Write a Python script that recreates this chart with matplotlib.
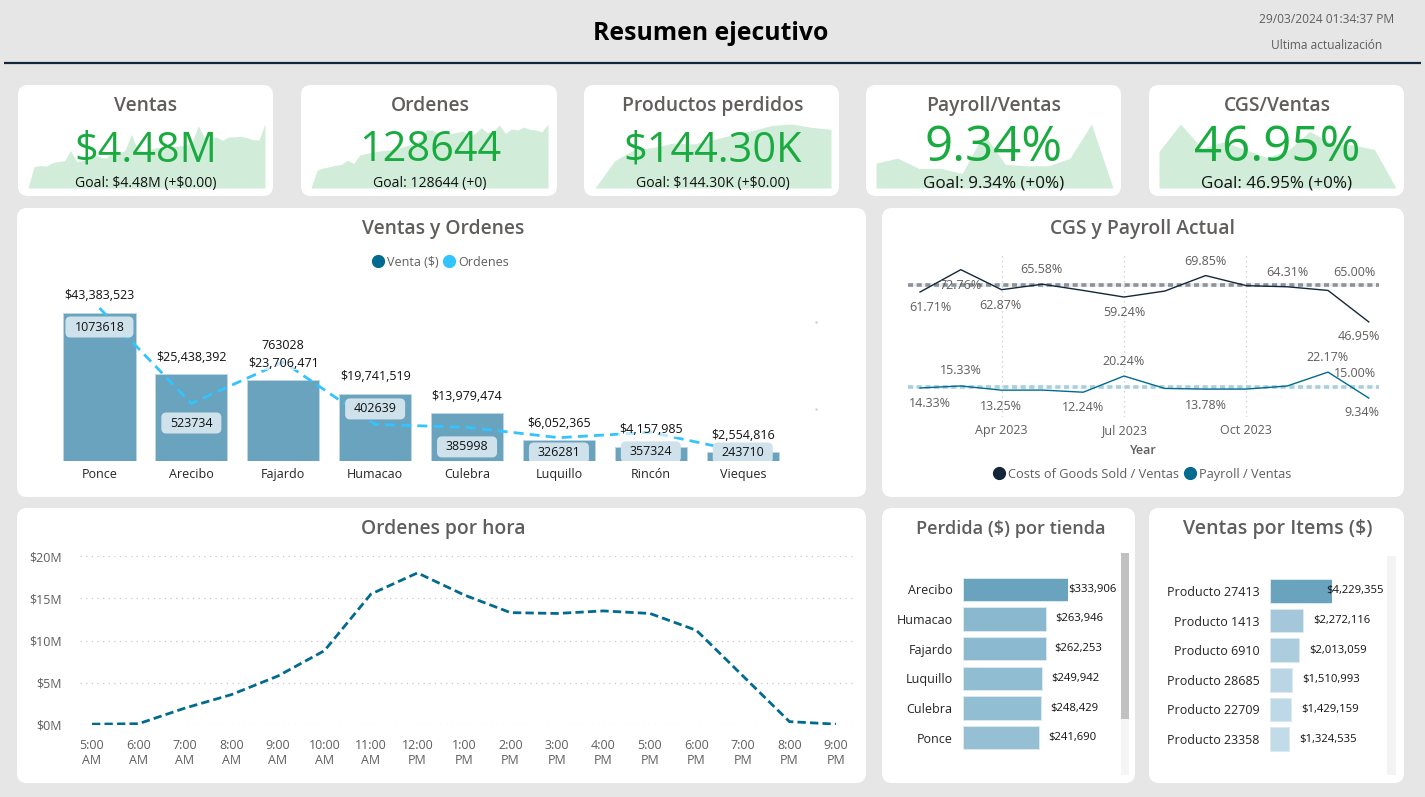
import numpy as np
import matplotlib
matplotlib.use("Agg")
import matplotlib.pyplot as plt
from matplotlib.patches import FancyBboxPatch
from matplotlib.lines import Line2D
from matplotlib.transforms import IdentityTransform

plt.rcParams['font.family'] = ['Open Sans', 'DejaVu Sans']
plt.rcParams['text.parse_math'] = False

# ---------- data ----------
ciudades = ['Ponce', 'Arecibo', 'Fajardo', 'Humacao', 'Culebra', 'Luquillo', 'Rincón', 'Vieques']
ventas = [43383523, 25438392, 23706471, 19741519, 13979474, 6052365, 4157985, 2554816]
ordenes = [1073618, 523734, 763028, 402639, 385998, 326281, 357324, 243710]

meses = ['Feb', 'Mar', 'Apr 2023', 'May', 'Jun', 'Jul 2023', 'Aug', 'Sep', 'Oct 2023', 'Nov', 'Dec', 'Jan']
cgs = [61.71, 72.76, 62.87, 65.58, 62.5, 59.24, 62.2, 69.85, 64.85, 64.31, 62.5, 46.95]
payroll = [14.33, 15.33, 13.25, 13.3, 12.24, 20.24, 14.1, 13.78, 13.8, 15.3, 22.17, 9.34]
cgs_goal = 65.00
payroll_goal = 15.00

horas = ['5:00\nAM', '6:00\nAM', '7:00\nAM', '8:00\nAM', '9:00\nAM', '10:00\nAM', '11:00\nAM', '12:00\nPM',
         '1:00\nPM', '2:00\nPM', '3:00\nPM', '4:00\nPM', '5:00\nPM', '6:00\nPM', '7:00\nPM', '8:00\nPM', '9:00\nPM']
ordenes_hora = [0.1, 0.15, 2.0, 3.6, 5.8, 8.8, 15.5, 18.0, 15.4, 13.3, 13.2, 13.5, 13.2, 11.2, 5.8, 0.4, 0.1]

tiendas = ['Arecibo', 'Humacao', 'Fajardo', 'Luquillo', 'Culebra', 'Ponce']
perdida = [333906, 263946, 262253, 249942, 248429, 241690]

productos = ['Producto 27413', 'Producto 1413', 'Producto 6910', 'Producto 28685', 'Producto 22709', 'Producto 23358']
ventas_items = [4229355, 2272116, 2013059, 1510993, 1429159, 1324535]

spark_ventas = [0, 63, 66, 64, 74, 78, 80, 110, 78, 80, 84, 100, 90, 88, 110, 100, 112, 158, 115, 108,
                112, 118, 120, 118, 122, 124, 126, 135, 183, 150, 145, 150, 140, 150, 150, 152, 148, 142, 141, 188]
spark_ordenes = [0, 53, 60, 63, 68, 70, 83, 73, 98, 103, 106, 110, 112, 114, 118, 122, 128, 133, 145, 173,
                 173, 160, 168, 162, 166, 170, 155, 163, 180, 165, 170, 188, 163, 176, 173, 182, 175, 173, 168, 191]
spark_perdidos = [0, 82, 115, 122, 135, 132, 145, 160, 172, 188, 192, 182, 176]

# ---------- styles ----------
W, H = 1425, 797
BG = '#E6E6E6'
GREY = '#605E5C'
DARK = '#252423'
GREEN = '#1AAB40'
SPARK = '#D1EDD9'
BAR = '#6AA3BD'
NAVY = '#14273A'
TEAL = '#006A8F'
CYAN = '#33C3FF'
PT = 0.72

fig = plt.figure(figsize=(W / 100, H / 100), dpi=100, facecolor=BG)


def box(x0, y0, x1, y1, z=2):
    a = fig.add_axes([x0 / W, 1 - y1 / H, (x1 - x0) / W, (y1 - y0) / H], zorder=z)
    a.patch.set_alpha(0)
    for s in a.spines.values():
        s.set_visible(False)
    return a


bg = box(0, 0, W, H, z=0)
bg.set_xlim(0, W)
bg.set_ylim(H, 0)
bg.axis('off')
top = box(0, 0, W, H, z=10)
top.set_xlim(0, W)
top.set_ylim(H, 0)
top.axis('off')

cards = [(18, 85, 273, 196), (301, 85, 557, 196), (584, 85, 839, 196), (866, 85, 1121, 196), (1149, 85, 1404, 196),
         (17, 208, 866, 497), (882, 208, 1404, 497),
         (17, 508, 866, 783), (882, 508, 1135, 783), (1149, 508, 1404, 783)]
for x0, y0, x1, y1 in cards:
    bg.add_patch(FancyBboxPatch((x0, y0), x1 - x0, y1 - y0, boxstyle='round,pad=0,rounding_size=10',
                                fc='white', ec='none'))

bg.plot([4, 1421], [62.5, 62.5], color=NAVY, lw=1.6, solid_capstyle='butt')
top.text(711, 33, 'Resumen ejecutivo', ha='center', va='center', fontsize=24.7 * PT, fontweight='bold', color='black')
top.text(1327, 19, '29/03/2024 01:34:37 PM', ha='center', va='center', fontsize=12 * PT, color=GREY)
top.text(1327, 45, 'Ultima actualización', ha='center', va='center', fontsize=11.9 * PT, color=GREY)

# ---------- KPI cards ----------
kpis = [('Ventas', 146, '$4.48M', 'Goal: $4.48M (+$0.00)', spark_ventas, 28, 265, 41.5, 14, 150),
        ('Ordenes', 430, '128644', 'Goal: 128644 (+0)', spark_ordenes, 311, 548, 41.5, 14, 150),
        ('Productos perdidos', 713, '$144.30K', 'Goal: $144.30K (+$0.00)', spark_perdidos, 595, 831, 41.5, 14, 150),
        ('Payroll/Ventas', 994, '9.34%', 'Goal: 9.34% (+0%)', payroll, 876, 1113, 49.3, 17, 148),
        ('CGS/Ventas', 1277, '46.95%', 'Goal: 46.95% (+0%)', cgs, 1159, 1396, 49.3, 17, 148)]
for titulo, cx, valor, meta, serie, sx0, sx1, vs, gs, vy in kpis:
    a = box(sx0, 188 - 64, sx1, 188, z=2)
    a.fill_between(np.arange(len(serie)), serie, min(serie), color=SPARK, lw=0)
    a.set_xlim(0, len(serie) - 1)
    a.set_ylim(min(serie), max(serie))
    a.axis('off')
    top.text(cx, 106, titulo, ha='center', va='center', fontsize=19.3 * PT, fontweight='semibold', color=GREY)
    top.text(cx, vy, valor, ha='center', va='center', fontsize=vs * PT, color=GREEN)
    top.text(cx, 183, meta, ha='center', va='center', fontsize=gs * PT, color='#111111')

# ---------- section titles ----------
for txt, cx in [('Ventas y Ordenes', 443), ('CGS y Payroll Actual', 1143)]:
    top.text(cx, 229, txt, ha='center', va='center', fontsize=19.3 * PT, fontweight='semibold', color=GREY)
for txt, cx, fs in [('Ordenes por hora', 443, 19.3), ('Perdida ($) por tienda', 1011, 18.2), ('Ventas por Items ($)', 1278, 19.5)]:
    top.text(cx, 529, txt, ha='center', va='center', fontsize=fs * PT, fontweight='semibold', color=GREY)

# ---------- Ventas y Ordenes ----------
a1 = box(53.5, 300, 788.7, 461)
x = np.arange(len(ciudades))
a1.bar(x, ventas, width=0.786, color=BAR, ec='#BFD8E4', lw=0.6, zorder=2)
a1.set_xlim(-0.5, 7.5)
a1.set_ylim(0, 47.19e6)
a1.set_yticks([])
a1.set_xticks(x, ciudades)
a1.tick_params(axis='x', length=0, pad=5, labelsize=12.5 * PT, labelcolor=DARK)

a2 = box(53.5, 300, 788.7, 461, z=3)
a2.plot(x, ordenes, color=CYAN, lw=2, ls=(0, (3.6, 2.2)), zorder=2, clip_on=False)
a2.set_xlim(-0.5, 7.5)
a2.set_ylim(191774, 1119728)
a2.axis('off')

for xi, v in zip(x, ventas):
    a2.annotate(f'${v:,.0f}', (xi, v / 47.19e6), xycoords=a2.get_xaxis_transform(), xytext=(0, 17 * PT),
                textcoords='offset points', ha='center', va='center', fontsize=12.5 * PT, color='#111111', zorder=5,
                bbox=dict(boxstyle='square,pad=0.05', fc='white', ec='none', alpha=0.65))

ord_offset = [19, 19.6, -16, -15.5, 19.6, 15.3, 19.6, 1]
ord_pill = [68, 60, 0, 60, 60, 60, 60, 60]
for xi, v, off, pw in zip(x, ordenes, ord_offset, ord_pill):
    if pw:
        px, py = a2.transData.transform((xi, v))
        p = FancyBboxPatch((px - pw / 2, py - off - 10.5), pw, 21, boxstyle='round,pad=0,rounding_size=5',
                           fc='#CFE2EB', ec='none', transform=IdentityTransform(), zorder=4)
        a2.add_artist(p)
        p.set_clip_box(a2.bbox)
        p.set_clip_on(True)
    a2.annotate(f'{v}', (xi, v), xytext=(0, -off * PT), textcoords='offset points', ha='center', va='center',
                fontsize=12.5 * PT, color='#111111', zorder=6, annotation_clip=False)

leg1 = top.legend(handles=[Line2D([], [], ls='', marker='o', ms=8.5, color=TEAL, label='Venta ($)'),
                           Line2D([], [], ls='', marker='o', ms=8.5, color=CYAN, label='Ordenes')],
                  loc='center', bbox_to_anchor=(440, 262), bbox_transform=top.transData, ncol=2, frameon=False,
                  fontsize=12.5 * PT, labelcolor=GREY, handletextpad=0.25, columnspacing=0.3, handlelength=1.0,
                  borderpad=0)
top.add_artist(leg1)
bg.plot([816.5, 816.5], [322, 409], ls='', marker='s', ms=0.6, color='#C8C8C8')

# ---------- CGS y Payroll ----------
a3 = box(908, 255, 1379, 417)
m = np.arange(len(meses))
a3.set_xlim(-0.294, 11.25)
a3.set_ylim(0, 80)
for goal, col in [(cgs_goal, '#8A939B'), (payroll_goal, '#A9CEDC')]:
    a3.axhline(goal, color=col, lw=2.6, alpha=0.15, zorder=1.5)
    a3.axhline(goal, color=col, lw=2.6, ls=(0, (1.4, 1.0)), zorder=2)
a3.plot(m, cgs, color=NAVY, lw=1.0, zorder=3)
a3.plot(m, payroll, color=TEAL, lw=1.0, zorder=3)
a3.set_yticks([])
tk = [2, 5, 8]
a3.set_xticks(tk, [meses[i] for i in tk])
a3.tick_params(axis='x', length=0, pad=5, labelsize=12.5 * PT, labelcolor=GREY)
a3.grid(axis='x', color='#C8C8C8', lw=0.9, ls=(0, (1, 3)))
a3.set_axisbelow(True)
a3.set_xlabel('Year', fontsize=12.5 * PT, fontweight='semibold', color=GREY, labelpad=5)

lab_cgs = {0: (10, 15.5), 1: (0, 16), 2: (-1, 16), 3: (-1, -15), 5: (0, 15), 7: (0, -14), 9: (0, -14), 11: (-10, 15)}
lab_pay = {0: (10, 16), 1: (0, -15), 2: (-1, 16), 4: (0, 15), 5: (0, -15), 7: (0, 16), 10: (0, -15), 11: (-7, 14)}
for serie, labs in [(cgs, lab_cgs), (payroll, lab_pay)]:
    for i, (dx, dy) in labs.items():
        a3.annotate(f'{serie[i]:.2f}%', (i, serie[i]), xytext=(dx * PT, -dy * PT), textcoords='offset points',
                    ha='center', va='center', fontsize=12.5 * PT, color=GREY, zorder=5, annotation_clip=False)
a3.annotate(f'{cgs_goal:.2f}%', (10.65, cgs_goal), xytext=(0, 13 * PT), textcoords='offset points', ha='center',
            va='center', fontsize=12.5 * PT, color=GREY, zorder=5)
a3.annotate(f'{payroll_goal:.2f}%', (10.65, payroll_goal), xytext=(0, 13 * PT), textcoords='offset points',
            ha='center', va='center', fontsize=12.5 * PT, color=GREY, zorder=5)

leg3 = top.legend(handles=[Line2D([], [], ls='', marker='o', ms=8.5, color=NAVY, label='Costs of Goods Sold / Ventas'),
                           Line2D([], [], ls='', marker='o', ms=8.5, color=TEAL, label='Payroll / Ventas')],
                  loc='center', bbox_to_anchor=(1142, 474), bbox_transform=top.transData, ncol=2, frameon=False,
                  fontsize=12.8 * PT, labelcolor=GREY, handletextpad=0.25, columnspacing=0.3, handlelength=1.0,
                  borderpad=0)

# ---------- Ordenes por hora ----------
a4 = box(80, 556, 855, 725)
h = np.arange(len(horas))
a4.plot(h, ordenes_hora, color=TEAL, lw=2, ls=(0, (3, 1.5)), zorder=3)
a4.set_xlim(-0.258, 16.41)
a4.set_ylim(0, 20)
a4.set_yticks([0, 5, 10, 15, 20], ['$0M', '$5M', '$10M', '$15M', '$20M'])
a4.set_xticks(h, horas)
a4.tick_params(axis='y', length=0, pad=18 * PT, labelsize=12.5 * PT, labelcolor=GREY)
a4.tick_params(axis='x', length=0, pad=10, labelsize=12.5 * PT, labelcolor=GREY)
a4.grid(axis='y', color='#C8C8C8', lw=0.9, ls=(0, (1, 3.5)))
a4.set_axisbelow(True)

# ---------- horizontal bars ----------


def hbars(box_xy, cats, vals, cols, gaps, fmt_size):
    ax = box(*box_xy)
    y = np.arange(len(cats))
    ax.barh(y, vals, height=0.787, color=cols, ec='#DCE9F0', lw=0.7)
    ax.set_xlim(0, max(vals))
    ax.set_ylim(len(cats) - 0.5, -0.5)
    ax.set_xticks([])
    ax.set_yticks(y, cats)
    ax.tick_params(axis='y', length=0, pad=10.5 * PT, labelsize=12.5 * PT, labelcolor=DARK)
    for yi, v, g in zip(y, vals, gaps):
        ax.annotate(f'${v:,.0f}', (v, yi), xytext=(g * PT, 0), textcoords='offset points', va='center', ha='left',
                    fontsize=fmt_size * PT, color='#111111', annotation_clip=False, zorder=5)
    return ax


hbars((963, 574.5, 1068.3, 752.5), tiendas, perdida,
      ['#6AA3BD', '#8AB8CE', '#8BB9CF', '#90BDD1', '#91BED2', '#95C0D4'], [0, 9, 9, 9, 9, 9], 11.2)
hbars((1270, 576, 1331.7, 754), productos, ventas_items,
      ['#6AA3BD', '#A4C8D9', '#ABCDDD', '#BAD6E4', '#BDD8E6', '#C2DBE8'], [-5, 10, 10, 10, 10, 10], 11.2)

bg.fill_between([1121, 1129.5], 553, 775, color='#F5F5F5', lw=0, zorder=3)
bg.fill_between([1121, 1129.5], 553, 719, color='#C1C1C1', lw=0, zorder=4)
bg.fill_between([1387.5, 1396.5], 556, 775, color='#F3F3F3', lw=0, zorder=3)

fig.savefig('out.png', dpi=100, facecolor=BG)
